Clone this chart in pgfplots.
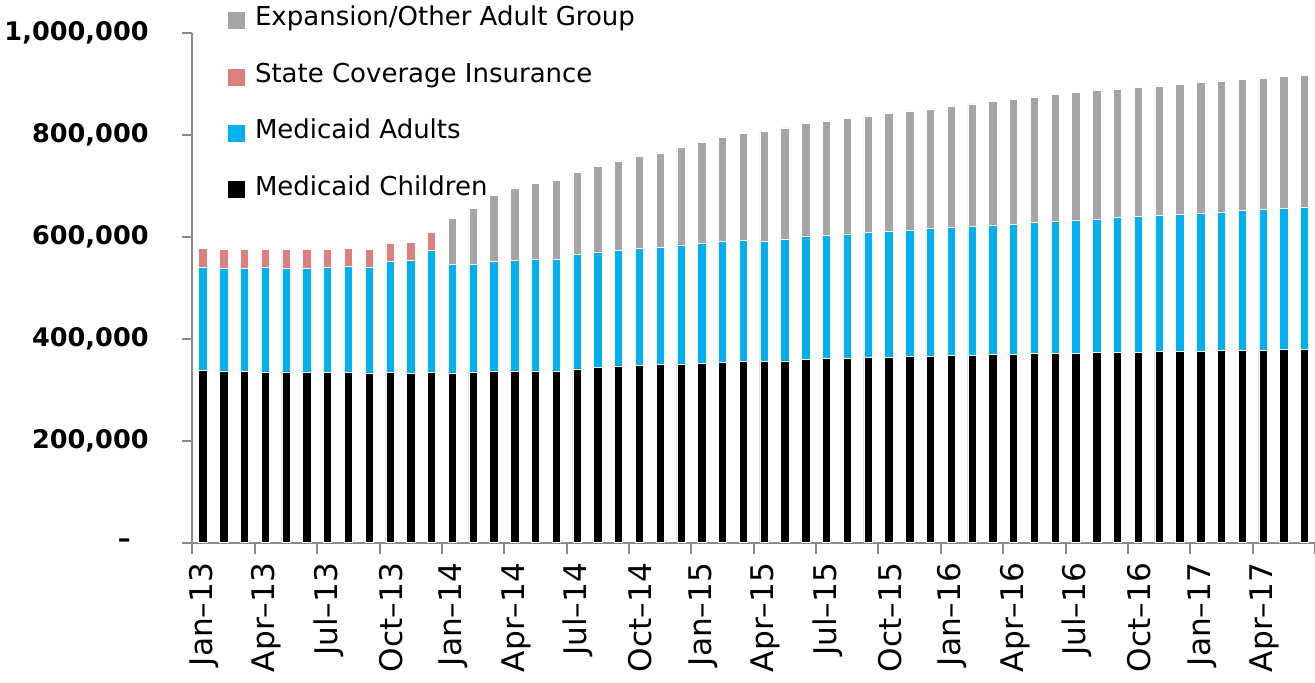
\documentclass[border=0pt]{standalone}
\usepackage{fontspec}
\setmainfont{DejaVu Sans}
\usepackage{pgfplots}
\usepackage{pgfplotstable}
\pgfplotsset{compat=1.18}
\definecolor{cChild}{HTML}{000000}
\definecolor{cAdult}{HTML}{00B0F0}
\definecolor{cSCI}{HTML}{DD7F7F}
\definecolor{cExp}{HTML}{A5A5A5}
\definecolor{axgray}{HTML}{8A8A8A}
\pgfplotstableread{
x C A S E
0 338000 202400 36700 0
1 337300 200500 37900 0
2 336000 202400 38000 0
3 335400 204300 36700 0
4 335400 203000 36700 0
5 334000 204400 36700 0
6 334000 206400 36000 0
7 334700 207000 36000 0
8 333400 207000 36000 0
9 334700 218100 34700 0
10 332000 222100 35400 0
11 335400 238400 36000 0
12 333400 212900 0 91000
13 335400 210900 0 109300
14 337300 214900 0 129500
15 337300 216800 0 142600
16 337300 218800 0 149800
17 337300 219500 0 155000
18 341300 224600 0 161600
19 344500 225400 0 169300
20 347000 226800 0 175900
21 347800 229900 0 180500
22 349300 230600 0 185500
23 351200 233300 0 192600
24 352600 235200 0 198500
25 353900 237800 0 205000
26 355200 238500 0 210200
27 355200 236500 0 216100
28 357100 238600 0 218700
29 359800 241100 0 222000
30 361700 241800 0 224600
31 362400 243800 0 227100
32 363700 245700 0 228500
33 364300 247100 0 231700
34 365700 248300 0 233700
35 366300 250300 0 235000
36 367600 251700 0 237600
37 368300 252900 0 240200
38 368900 255000 0 242100
39 369600 255600 0 245400
40 370900 257500 0 246800
41 371600 259500 0 248700
42 372200 260800 0 251300
43 372900 262100 0 252600
44 373500 265400 0 252000
45 374200 266700 0 253900
46 374800 268000 0 254000
47 375500 269300 0 255200
48 376100 270700 0 256500
49 377500 271900 0 257100
50 377500 274500 0 257800
51 378100 276500 0 257800
52 378800 277800 0 258400
53 379400 279800 0 258500
}\datatable
\begin{document}
\begin{tikzpicture}
\begin{axis}[
  name=ax,
  scale only axis,
  width=561.25pt, height=254.7pt,
  ybar stacked,
  bar width=0.4,
  xmin=-0.5, xmax=53.5,
  ymin=0, ymax=1000000,
  axis x line*=bottom, axis y line*=left,
  axis line style={draw=axgray, line width=1pt},
  xtick={0,3,...,51},
  xticklabels={Jan–13,Apr–13,Jul–13,Oct–13,Jan–14,Apr–14,Jul–14,Oct–14,Jan–15,Apr–15,Jul–15,Oct–15,Jan–16,Apr–16,Jul–16,Oct–16,Jan–17,Apr–17},
  minor xtick={-0.5,2.5,...,53.5},
  major x tick style={draw=none},
  minor x tick style={draw=axgray, line width=1pt},
  major y tick style={draw=axgray, line width=1pt},
  tick align=outside,
  major tick length=5pt,
  minor tick length=5.5pt,
  ytick={0,200000,400000,600000,800000,1000000},
  yticklabels={{–\rule{9pt}{0pt}},{200,000},{400,000},{600,000},{800,000},{1,000,000}},
  scaled y ticks=false,
  yticklabel style={font=\fontsize{12.8}{15}\selectfont\bfseries, anchor=east, xshift=-13.4pt},
  xticklabel style={font=\fontsize{15.6}{18}\selectfont, rotate=90, anchor=east, xshift=-1.5pt, yshift=-0.6pt},
  reverse legend,
  legend cell align=left,
  legend style={at={(rel axis cs:0,1)}, anchor=north west, xshift=17.25pt, yshift=13.9pt,
    draw=none, fill=none, inner sep=0pt, row sep=15.2pt, column sep=4.5pt,
    font=\fontsize{13}{15.6}\selectfont,
    nodes={inner sep=0pt, text height=10pt, text depth=3pt}},
  sqleg/.style={legend image code/.code={\fill[##1] (0pt,-5.25pt) rectangle (9pt,3.75pt);}},
]
\addplot+[sqleg, fill=cChild, draw=white, line width=0.3pt] table[x=x,y=C]{\datatable};
\addlegendentry{Medicaid Children}
\addplot+[sqleg, fill=cAdult, draw=white, line width=0.3pt] table[x=x,y=A]{\datatable};
\addlegendentry{Medicaid Adults}
\addplot+[sqleg, fill=cSCI, draw=white, line width=0.3pt] table[x=x,y=S]{\datatable};
\addlegendentry{State Coverage Insurance}
\addplot+[sqleg, fill=cExp, draw=white, line width=0.3pt] table[x=x,y=E]{\datatable};
\addlegendentry{Expansion/Other Adult Group}
\end{axis}
\pgfresetboundingbox
\path ([shift={(-96.25pt,-69.65pt)}]ax.south west) rectangle ([shift={(561.25pt,271.35pt)}]ax.south west);
\end{tikzpicture}
\end{document}
